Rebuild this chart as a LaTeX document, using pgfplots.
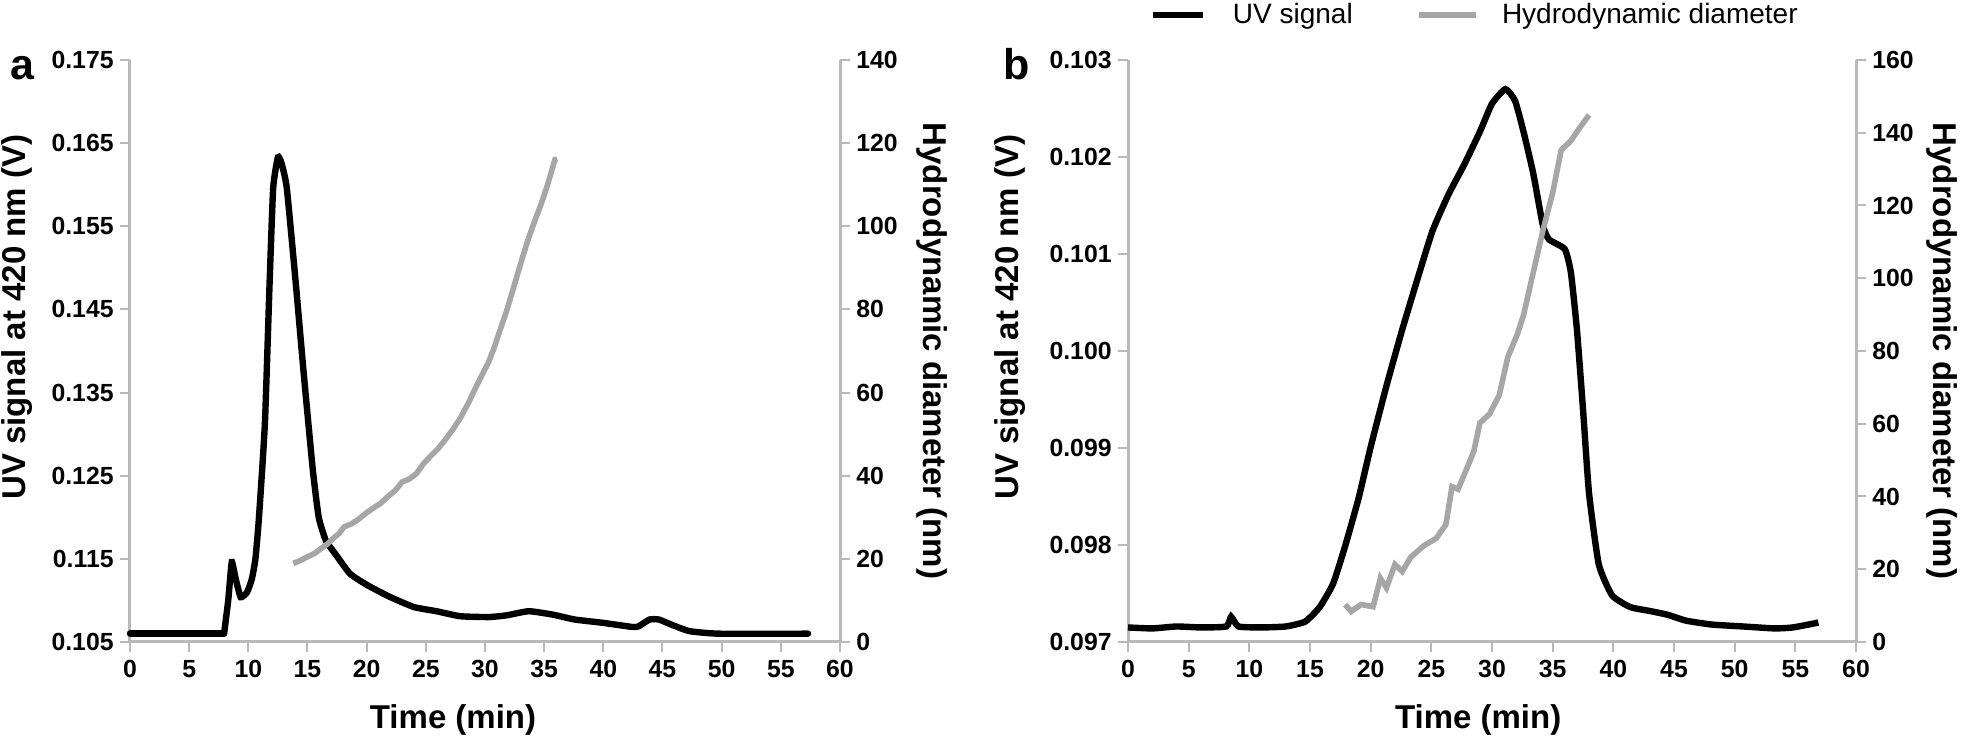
\documentclass[border=0pt]{standalone}
\usepackage{fontspec}
\setmainfont{Liberation Sans}
\usepackage{pgfplots}
\pgfplotsset{compat=1.18}
\usepackage{pgfplotstable}

\definecolor{axgray}{RGB}{185,185,185}
\definecolor{curvegray}{RGB}{166,166,166}

\pgfplotstableread{
x y
0 0.1060
7.95 0.1060
}\uvAbase

\pgfplotstableread{
x y
7.95 0.1060
8.3 0.1100
8.6 0.1146
8.9 0.1128
9.35 0.1104
9.9 0.1110
10.3 0.1126
10.6 0.1150
10.9 0.1200
11.4 0.1313
11.8 0.1483
12.1 0.1596
12.5 0.1633
12.8 0.1626
13.25 0.1596
14.0 0.1483
14.7 0.1370
15.45 0.1257
15.95 0.1200
16.55 0.1172
17.4 0.1155
18.6 0.1132
20.1 0.1118
22.0 0.1104
24.0 0.1092
25.9 0.1087
27.9 0.1081
30.3 0.1080
31.8 0.1082
33.7 0.1087
35.7 0.1083
37.6 0.1077
40.0 0.1073
42.5 0.1068
43.0 0.1069
43.9 0.1077
44.7 0.1077
45.9 0.1070
47.3 0.1063
49.8 0.1060
57.3 0.1060
}\uvA

\pgfplotstableread{
x y
13.8 18.9
14.4 19.6
15.0 20.5
15.6 21.3
16.2 22.6
16.7 23.6
17.2 25.0
17.7 26.2
18.1 27.7
18.7 28.4
19.3 29.5
20.0 31.1
20.6 32.3
21.2 33.4
21.8 35.0
22.4 36.4
23.0 38.5
23.6 39.2
24.2 40.5
24.8 42.9
25.4 44.7
26.0 46.4
26.6 48.5
27.3 51.2
27.9 53.8
28.6 57.5
29.3 61.7
29.8 64.5
30.3 67.3
30.8 71.0
31.3 75.3
31.8 79.4
32.2 83.2
32.7 88.0
33.2 92.8
33.7 97.3
34.2 101.3
34.7 105.0
35.2 109.2
35.6 113.0
35.9 116.0
36.1 116.2
}\hdA

\pgfplotstableread{
x y
0 0.09715
2 0.09714
4 0.09716
6 0.09715
8.1 0.09716
8.5 0.09726
9.1 0.09716
11 0.09715
13 0.09716
14.6 0.09721
15.8 0.09736
16.9 0.09760
17.9 0.09799
19.0 0.09848
20.0 0.09901
21.3 0.09964
22.6 0.10022
23.9 0.10076
25.1 0.10124
26.4 0.10161
27.7 0.10192
29.0 0.10226
30.0 0.10255
31.1 0.10270
31.9 0.10258
32.6 0.10226
33.4 0.10183
34.2 0.10129
34.7 0.10115
36.0 0.10105
36.5 0.10081
37.0 0.10022
37.5 0.09940
38.0 0.09853
38.8 0.09780
39.9 0.09748
41.4 0.09736
43.0 0.09732
44.5 0.09728
46.0 0.09722
48.1 0.09718
50.7 0.09716
53.3 0.09714
54.8 0.09715
56.9 0.09720
}\uvB

\pgfplotstableread{
x y
17.9 10.3
18.4 8.4
19.2 10.3
20.2 9.7
20.8 17.5
21.3 14.9
22.0 21.3
22.6 19.4
23.3 23.3
24.4 26.5
25.4 28.5
26.2 32.3
26.7 42.7
27.2 42.0
27.7 45.9
28.5 52.4
29.0 60.2
29.8 62.7
30.6 67.9
31.3 78.3
32.1 84.7
32.6 89.9
33.4 101.6
34.2 113.2
35.0 123.5
35.7 135.2
36.5 137.8
37.3 141.7
38.0 144.9
}\hdB

\newcommand\labfont{\fontsize{16.5pt}{18pt}\selectfont\bfseries}

\pgfplotsset{
  base/.style={
    scale only axis, height=291pt,
    xmin=0, xmax=60, xtick={0,5,...,60},
    axis line style={axgray, line width=1.5pt},
    major tick style={axgray, line width=1pt},
    major tick length=5pt,
    tick align=outside,
    tick label style={font=\fontsize{12.4pt}{14pt}\selectfont\bfseries, inner sep=0pt},
    /pgf/number format/assume math mode=true,
    clip=false,
  },
  leftax/.style={base,
    axis y line*=left, axis x line*=bottom,
    yticklabel style={/pgf/number format/fixed, /pgf/number format/fixed zerofill, /pgf/number format/precision=3, xshift=-3pt},
    xticklabel style={yshift=-4pt},
  },
  rightax/.style={base,
    axis y line*=right, axis x line=none,
    yticklabel style={xshift=3pt},
  },
}

\begin{document}
\begin{tikzpicture}
\useasboundingbox (0,0) rectangle (980.5pt,369.5pt);

% panel a
\begin{axis}[leftax, width=355pt, at={(65pt,48.5pt)}, anchor=south west,
  ymin=0.105, ymax=0.175, ytick={0.105,0.115,0.125,0.135,0.145,0.155,0.165,0.175},
  xlabel={Time (min)}, ylabel={UV signal at 420 nm (V)},
  every axis x label/.style={at={(axis description cs:0.455,-0.134)}, anchor=center, font=\labfont},
  every axis y label/.style={at={(axis description cs:-0.159,0.558)}, rotate=90, anchor=center, font=\labfont}]
\addplot[black, line width=3.2pt, line cap=round] table[x=x,y=y] {\uvAbase};
\addplot[black, line width=3.2pt, line cap=round, smooth, tension=0.3] table[x=x,y=y] {\uvA};
\end{axis}
\begin{axis}[rightax, width=355pt, at={(65pt,48.5pt)}, anchor=south west,
  ymin=0, ymax=140, ytick={0,20,...,140},
  ylabel={Hydrodynamic diameter (nm)},
  every axis y label/.style={at={(axis description cs:1.13,0.5)}, rotate=-90, anchor=center, font=\labfont}]
\addplot[curvegray, line width=2.8pt] table[x=x,y=y] {\hdA};
\end{axis}

% panel b
\begin{axis}[leftax, width=364pt, at={(564pt,48.5pt)}, anchor=south west,
  ymin=0.097, ymax=0.103, ytick={0.097,0.098,0.099,0.100,0.101,0.102,0.103},
  xlabel={Time (min)}, ylabel={UV signal at 420 nm (V)},
  every axis x label/.style={at={(axis description cs:0.481,-0.134)}, anchor=center, font=\labfont},
  every axis y label/.style={at={(axis description cs:-0.162,0.558)}, rotate=90, anchor=center, font=\labfont},
  legend columns=2,
  legend style={draw=none, fill=none, inner sep=0pt, outer sep=0pt,
    at={(axis description cs:0.0302,1.077)}, anchor=west,
    font=\fontsize{14pt}{16pt}\selectfont,
    nodes={inner sep=0pt},
    /tikz/column 1/.style={column sep=13.5pt},
    /tikz/column 2/.style={column sep=31.6pt},
    /tikz/column 3/.style={column sep=11.5pt}},
  legend cell align=left]
\addplot[black, line width=3.2pt, smooth, tension=0.3,
  legend image code/.code={\draw[black, line width=3pt] (0pt,0pt) -- (25pt,0pt);}] table[x=x,y=y] {\uvB};
\addlegendentry{UV signal}
\addlegendimage{legend image code/.code={\draw[curvegray, line width=3pt] (0pt,0pt) -- (28.5pt,0pt);}}
\addlegendentry{Hydrodynamic diameter}
\end{axis}
\begin{axis}[rightax, width=364pt, at={(564pt,48.5pt)}, anchor=south west,
  ymin=0, ymax=160, ytick={0,20,...,160},
  ylabel={Hydrodynamic diameter (nm)},
  every axis y label/.style={at={(axis description cs:1.118,0.5)}, rotate=-90, anchor=center, font=\labfont}]
\addplot[curvegray, line width=2.8pt] table[x=x,y=y] {\hdB};
\end{axis}

\node[anchor=base west, inner sep=0pt, font=\fontsize{21.5pt}{24pt}\selectfont\bfseries] at (5pt,329.5pt) {a};
\node[anchor=base west, inner sep=0pt, font=\fontsize{21.5pt}{24pt}\selectfont\bfseries] at (501.5pt,329.5pt) {b};
\end{tikzpicture}
\end{document}
